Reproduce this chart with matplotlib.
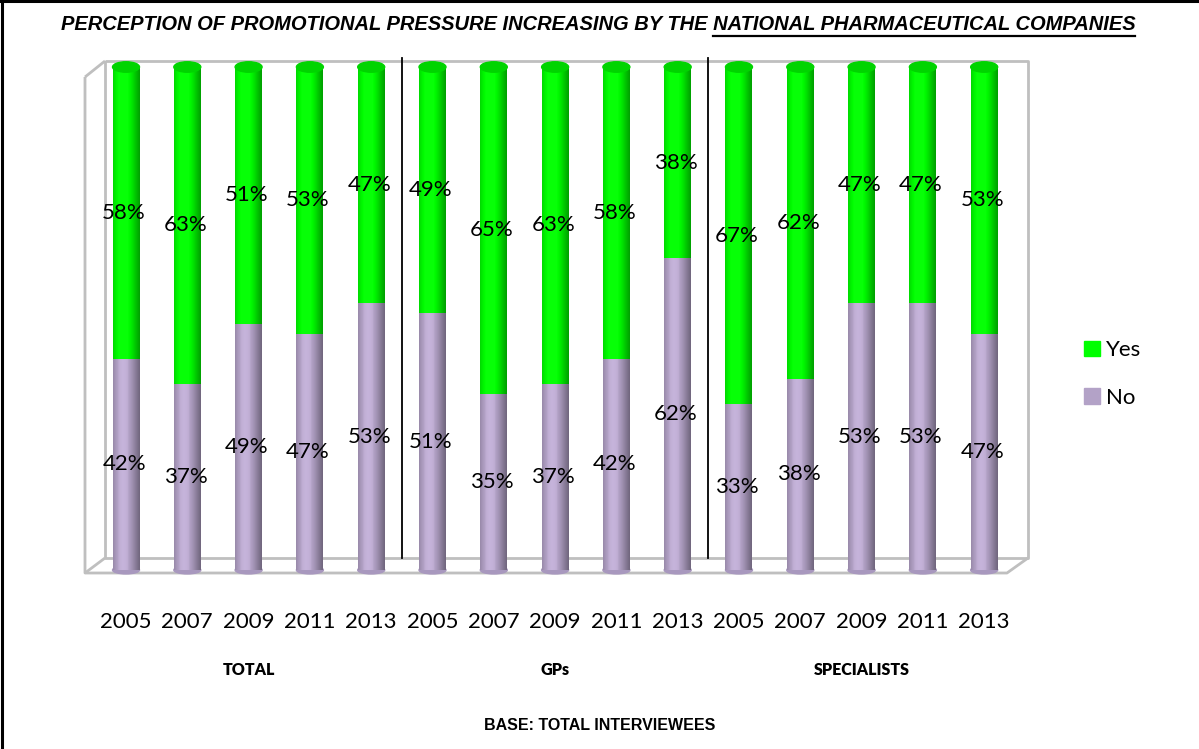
import numpy as np
import matplotlib
matplotlib.use('Agg')
import matplotlib.pyplot as plt
from matplotlib.patches import Ellipse, Patch
from matplotlib.colors import to_rgb

years = ['2005', '2007', '2009', '2011', '2013'] * 3
groups = ['TOTAL', 'GPs', 'SPECIALISTS']
no_vals = [42, 37, 49, 47, 53, 51, 35, 37, 42, 62, 33, 38, 53, 53, 47]
yes_vals = [58, 63, 51, 53, 47, 49, 65, 63, 58, 38, 67, 62, 47, 47, 53]

GREEN = '#00FF00'
PURPLE = '#B3A2C7'
FRAME = '#BFBFBF'

W, H = 1199, 749
fig = plt.figure(figsize=(W / 100, H / 100), dpi=100)

# axes placed in pixel terms (x 85..1028, y 61..575)
ax = fig.add_axes([85 / W, 1 - 575 / H, 943 / W, 514 / H])
ax.set_xlim(-0.669, 14.715)
ax.set_ylim(-0.99, 101.19)
ax.axis('off')

def shade(color, n=60):
	# cylinder-ish horizontal gradient
	c = np.array(to_rgb(color))
	t = np.linspace(0, 1, n)
	f = 0.78 + 0.28 * np.cos((t - 0.38) * np.pi * 1.1)
	f = np.clip(f, 0.6, 1.06)
	img = np.clip(c[None, :] * f[:, None] + (f[:, None] > 1.0) * 0.03, 0, 1)
	return img[None, :, :]

x = np.arange(len(years))
bw = 0.44
cap_h = 1.3

# 3D box frame (axes fraction)
def px(p, q):
	return ((p - 85) / 943, (575 - q) / 514)

frame_segs = [
	[(105, 61), (1028, 61), (1028, 558), (105, 558), (105, 61)],
	[(85, 77), (105, 61)],
	[(85, 77), (85, 573), (1007, 573), (1028, 558)],
	[(85, 573), (105, 558)],
]
for seg in frame_segs:
	pts = [px(a, b) for a, b in seg]
	ax.plot([p[0] for p in pts], [p[1] for p in pts], color=FRAME, lw=2.0,
			transform=ax.transAxes, zorder=1, solid_capstyle='butt', clip_on=False)

no_bars = ax.bar(x, no_vals, width=bw, color=PURPLE, zorder=3)
yes_bars = ax.bar(x, yes_vals, width=bw, bottom=no_vals, color=GREEN, zorder=3)

for bars, col in [(no_bars, PURPLE), (yes_bars, GREEN)]:
	for b in bars:
		x0, y0 = b.get_x(), b.get_y()
		im = ax.imshow(shade(col), extent=(x0, x0 + b.get_width(), y0, y0 + b.get_height()),
					   aspect='auto', zorder=4, interpolation='bilinear')
		im.set_clip_path(b)

for i in range(len(years)):
	# bottom rounding and top cap
	ax.add_patch(Ellipse((x[i], 0), bw, cap_h * 1.2, color='#A898BE', zorder=2.5))
	top = no_vals[i] + yes_vals[i]
	ax.add_patch(Ellipse((x[i], top), bw, cap_h * 1.6, color='#00D400', zorder=5))

# group separators
for sx in [4.5, 9.5]:
	ax.plot([sx, sx], [2.4, 101.8], color='black', lw=1.3, zorder=2, clip_on=False)

# value labels
for i in range(len(years)):
	ax.text(x[i] - 0.03, no_vals[i] / 2, f'{no_vals[i]}%', ha='center', va='center',
			fontsize=16, family='Lato', zorder=6)
	ax.text(x[i] - 0.03, no_vals[i] + yes_vals[i] / 2, f'{yes_vals[i]}%', ha='center',
			va='center', fontsize=16, family='Lato', zorder=6)

# year labels and group labels
for i, yr in enumerate(years):
	ax.text(x[i], -10.4, yr, ha='center', va='center', fontsize=16, family='Lato', clip_on=False)
for g, name in enumerate(groups):
	ax.text(g * 5 + 2, -19.8, name, ha='center', va='center', fontsize=11.5, family='Lato',
			fontweight='heavy', clip_on=False)

fig.text(600 / W, 1 - 725 / H, 'BASE: TOTAL INTERVIEWEES', ha='center', va='center',
		 fontsize=11.5, family=['Liberation Sans Narrow', 'Liberation Sans'], fontweight='bold')

# title with underlined second part
t1 = 'PERCEPTION OF PROMOTIONAL PRESSURE INCREASING BY THE '
t2 = 'NATIONAL PHARMACEUTICAL COMPANIES'
tfont = dict(fontsize=14.5, family=['Liberation Sans Narrow', 'Liberation Sans'],
			 fontweight='bold', style='italic')
full = fig.text(598 / W, 1 - 25 / H, t1 + t2, ha='center', va='center', **tfont)
r = fig.canvas.get_renderer()
fb = full.get_window_extent(r)
part = fig.text(fb.x1 / W, 1 - 25 / H, t2, ha='right', va='center', alpha=0, **tfont)
pb = part.get_window_extent(r)
fig.add_artist(plt.Line2D([pb.x0 / W, pb.x1 / W], [(fb.y0 - 1.5) / H] * 2, color='black', lw=1.6))

# legend
handles = [Patch(color=GREEN, label='Yes'), Patch(color=PURPLE, label='No')]
fig.legend(handles=handles, loc='center left', bbox_to_anchor=(1064 / W, 1 - 374 / H),
		   frameon=False, prop={'family': 'Lato', 'size': 16}, handlelength=0.7,
		   handleheight=0.7, handletextpad=0.3, labelspacing=1.25)

# figure border (top and left)
fig.add_artist(plt.Line2D([0.0015, 0.0015], [0, 0.998], color='black', lw=2.2))
fig.add_artist(plt.Line2D([0, 1], [0.998, 0.998], color='black', lw=2.2))

fig.savefig('out.png', dpi=100)
